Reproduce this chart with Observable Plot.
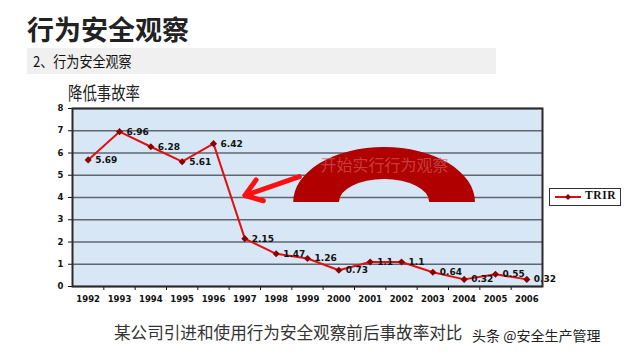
<!DOCTYPE html>
<html><head><meta charset="utf-8">
<script src="https://cdn.jsdelivr.net/npm/d3@7"></script>
<script src="https://cdn.jsdelivr.net/npm/@observablehq/plot@0.6"></script>
<style>
html,body{margin:0;padding:0;background:#fff;}
#page{position:relative;width:640px;height:360px;overflow:hidden;font-family:"Noto Sans CJK SC","Noto Sans",sans-serif;}
.abs{position:absolute;white-space:nowrap;}
#title{left:27px;top:9px;font-size:27px;font-weight:bold;color:#222;}
#band{left:27px;top:48px;width:469px;height:26px;background:#f0f0f0;}
#band span{position:absolute;left:6px;top:2px;font-size:15px;color:#111;transform:scaleX(0.87);transform-origin:0 0;}
#sub{left:68px;top:79px;font-size:18px;color:#222;transform:scaleX(0.8);transform-origin:0 0;}
#chart{left:0;top:100px;}
#legend{left:549px;top:188px;width:70px;height:16px;border:1px solid #333;background:#fff;}
#legend svg{position:absolute;left:5px;top:3px;}
#legend span{position:absolute;left:35px;top:0px;font-family:"Liberation Serif",serif;font-weight:bold;font-size:11.5px;letter-spacing:0.6px;color:#111;}
#caption{left:114px;top:320px;font-size:16.6px;color:#333;}
#wm{left:472px;top:325px;font-size:14px;color:#222;text-shadow:0 0 2px #fff;}
</style></head>
<body><div id="page">
<div id="title" class="abs">行为安全观察</div>
<div id="band" class="abs"><span>2、行为安全观察</span></div>
<div id="sub" class="abs">降低事故率</div>
<div id="chart" class="abs"></div>
<div id="legend" class="abs"><svg width="28" height="10"><line x1="0" y1="5" x2="26" y2="5" stroke="#e01010" stroke-width="2"/><path d="M13,2L16,5L13,8L10,5Z" fill="#8b0000"/></svg><span>TRIR</span></div>
<div id="caption" class="abs">某公司引进和使用行为安全观察前后事故率对比</div>
<div id="wm" class="abs">头条 @安全生产管理</div>
</div>
<script>
const years = [1992,1993,1994,1995,1996,1997,1998,1999,2000,2001,2002,2003,2004,2005,2006];
const trir  = [5.69,6.96,6.28,5.61,6.42,2.15,1.47,1.26,0.73,1.1,1.1,0.64,0.32,0.55,0.32];
const labels = ["5.69","6.96","6.28","5.61","6.42","2.15","1.47","1.26","0.73","1.1","1.1","0.64","0.32","0.55","0.32"];
const yTicks = [0,1,2,3,4,5,6,7,8];
const seriesName = "TRIR";
const annotationText = "开始实行行为观察";
// annotation geometry in data units
const arch = {year: 2001.46, value: 3.78, outerX: 2.9, outerY: 2.47, innerX: 1.44, innerY: 1.03};
const arrow = {x1: 1998.74, y1: 4.94, x2: 1997.0, y2: 4.09};

const data = years.map((y,i)=>({year:y, v:trir[i], label:labels[i]}));
const bounds = years.slice(0,-1).map(y=>y+0.5);

function archMark(index, scales) {
  const x = scales.x, y = scales.y;
  const cx = x(arch.year), cy = y(arch.value);
  const Rx = x(arch.year+arch.outerX)-cx, Ry = cy - y(arch.value+arch.outerY);
  const rx = x(arch.year+arch.innerX)-cx, ry = cy - y(arch.value+arch.innerY);
  const g = d3.create("svg:g");
  g.append("path")
    .attr("d", `M${cx-Rx},${cy}A${Rx},${Ry} 0 0 1 ${cx+Rx},${cy}L${cx+rx},${cy}A${rx},${ry} 0 0 0 ${cx-rx},${cy}Z`)
    .attr("fill", "#b00000");
  return g.node();
}

const numFont = "'DejaVu Sans', Verdana, sans-serif";
const chart = Plot.plot({
  width: 640, height: 210,
  marginLeft: 72, marginRight: 98, marginTop: 8, marginBottom: 24,
  style: {fontFamily: numFont, background: "transparent"},
  x: {type: "linear", domain: [1991.5, 2006.5]},
  y: {domain: [0, 8]},
  marks: [
    Plot.frame({fill: "#d8e7f6", stroke: null}),
    Plot.gridY(yTicks, {stroke: "#5f6670", strokeOpacity: 1, strokeWidth: 1.4}),
    Plot.axisY(yTicks, {tickSize: 4, tickPadding: 5, fontWeight: "bold", fontSize: 8.5, fill: "#111", stroke: "#111"}),
    Plot.axisX(years, {tickSize: 0, tickPadding: 9, tickFormat: d => String(d), fontWeight: "bold", fontSize: 8.5, fill: "#111"}),
    Plot.axisX(bounds, {tickSize: 4, tickFormat: () => "", stroke: "#111"}),
    archMark,
    Plot.text([annotationText], {x: () => arch.year, y: () => 5.44, text: d => d, fill: "#d06060", fillOpacity: 0.65, fontSize: 16, fontFamily: "'Noto Sans CJK SC', serif"}),
    Plot.arrow([arrow], {x1: "x1", y1: "y1", x2: "x2", y2: "y2", stroke: "#ff1010", strokeWidth: 5, headLength: 8, headAngle: 70, bend: 0}),
    Plot.line(data, {x: "year", y: "v", stroke: "#e01010", strokeWidth: 2}),
    Plot.dot(data, {x: "year", y: "v", symbol: "diamond2", r: 3.2, fill: "#8b0000", stroke: null}),
    Plot.text(data, {x: "year", y: "v", text: "label", dx: 7, textAnchor: "start", fontWeight: "bold", fontSize: 9, fill: "#111"}),
    Plot.frame({stroke: "#2a2a2a", strokeWidth: 2})
  ]
});
document.getElementById("chart").appendChild(chart);
</script>
</body></html>
